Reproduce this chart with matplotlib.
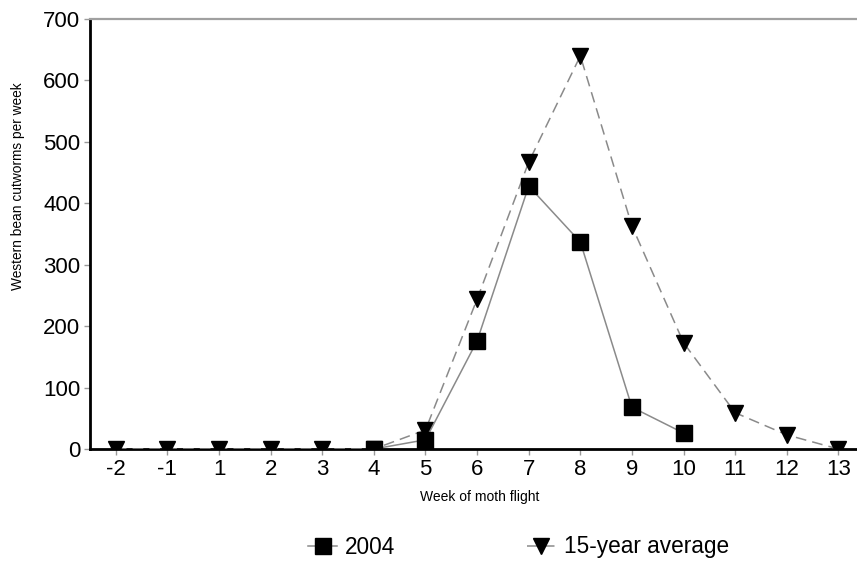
import numpy as np
import matplotlib.pyplot as plt

plt.rcParams["font.family"] = ["Liberation Sans", "DejaVu Sans"]

weeks = ["-2", "-1", "1", "2", "3", "4", "5", "6", "7", "8", "9", "10", "11", "12", "13"]
y2004 = [np.nan, np.nan, np.nan, np.nan, np.nan, 0, 15, 176, 428, 337, 68, 26, np.nan, np.nan, np.nan]
avg15 = [0, 0, 0, 0, 0, 0, 31, 244, 467, 640, 363, 173, 59, 23, 0]

x = np.arange(len(weeks))

fig = plt.figure(figsize=(8.57, 5.65), dpi=100)
ax = fig.add_axes([0.105, 0.2053, 0.895, 0.7611])

ax.plot(x, avg15, color="#8a8a8a", linestyle=(0, (7, 4)), linewidth=1.1,
        marker="v", markersize=12, markerfacecolor="black", markeredgecolor="black",
        label="15-year average", zorder=3)
ax.plot(x, y2004, color="#8a8a8a", linestyle="-", linewidth=1.1,
        marker="s", markersize=12, markerfacecolor="black", markeredgecolor="black",
        label="2004", zorder=4)

ax.set_xlim(-0.5, 14.36)
ax.set_ylim(0, 700)
ax.set_xticks(x)
ax.set_xticklabels(weeks)
ax.set_yticks(range(0, 701, 100))

ax.spines["right"].set_visible(False)
ax.spines["top"].set_color("#a0a0a0")
ax.spines["top"].set_linewidth(1.6)
ax.spines["left"].set_linewidth(2)
ax.spines["bottom"].set_linewidth(2)
ax.tick_params(axis="both", labelsize=16, color="#999999", length=4, width=1, pad=3)

fig.text(0.021, 1 - 186 / 565, "Western bean cutworms per week", rotation=90,
         ha="center", va="center", fontsize=9.9)
fig.text(480 / 857, 1 - 497 / 565, "Week of moth flight", ha="center", va="center", fontsize=10)

h, l = ax.get_legend_handles_labels()
fig.legend([h[1], h[0]], [l[1], l[0]], loc="center", bbox_to_anchor=(0.605, 1 - 547 / 565),
           ncol=2, frameon=False, fontsize=16.3, handlelength=1.3, columnspacing=5.8,
           handletextpad=0.35)

fig.savefig("out.png", dpi=100)
